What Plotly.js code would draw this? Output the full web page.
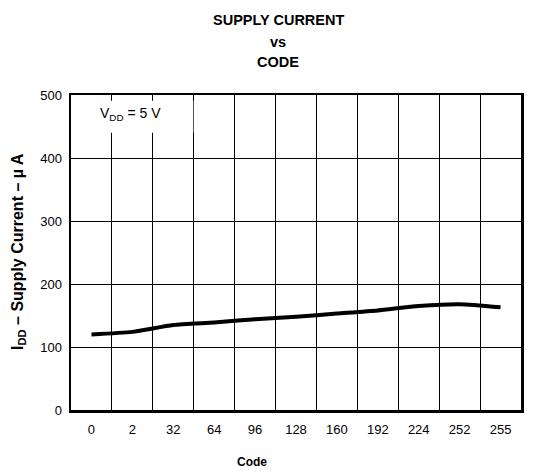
<!DOCTYPE html>
<html>
<head>
<meta charset="utf-8">
<script src="https://cdn.plot.ly/plotly-3.0.1.min.js"></script>
<style>html,body{margin:0;padding:0;background:#fff;}#chart{width:549px;height:473px;}</style>
</head>
<body>
<div id="chart"></div>
<script>
// Data
const codes = ["0", "2", "32", "64", "96", "128", "160", "192", "224", "252", "255"];
const supplyCurrent = [120, 124, 135, 139, 144, 148, 153, 158, 165, 168, 163];
const yTicks = [0, 100, 200, 300, 400, 500];
const titleLines = ["SUPPLY CURRENT", "vs", "CODE"];

const FONT = "Arial, 'Liberation Sans', Helvetica, sans-serif";

const W = 549, H = 473;
const M = {l: 71, r: 28, t: 95, b: 63};
const plotW = W - M.l - M.r, plotH = H - M.t - M.b;
const px = x => (x - M.l) / plotW;
const py = y => (H - M.b - y) / plotH;

const trace = {
  x: codes,
  y: supplyCurrent,
  type: "scatter",
  mode: "lines",
  line: {color: "#000", width: 4, shape: "spline", smoothing: 0.6},
  hoverinfo: "skip"
};

const titleY = [20, 42, 62];
const annotations = titleLines.map((t, i) => ({
  text: "<b>" + t + "</b>",
  xref: "paper", yref: "paper", x: px(278), y: py(titleY[i]),
  showarrow: false, xanchor: "center", yanchor: "middle",
  font: {family: FONT, size: 14.5, color: "#000"}
}));
annotations.push({
  text: "<b>Code</b>",
  xref: "paper", yref: "paper", x: px(252), y: py(462),
  showarrow: false, xanchor: "center", yanchor: "middle",
  font: {family: FONT, size: 12, color: "#000"}
});
annotations.push({
  text: "<b>I<sub>DD</sub> – Supply Current – µ A</b>",
  xref: "paper", yref: "paper", x: px(18), y: py(252),
  textangle: -90,
  showarrow: false, xanchor: "center", yanchor: "middle",
  font: {family: FONT, size: 16, color: "#000"}
});
annotations.push({
  text: "V<sub>DD</sub> = 5 V",
  xref: "x", yref: "y", x: 0.95, y: 470,
  showarrow: false, xanchor: "center", yanchor: "middle",
  font: {family: FONT, size: 14, color: "#000"}
});

const layout = {
  width: W,
  height: H,
  margin: M,
  paper_bgcolor: "#fff",
  plot_bgcolor: "#fff",
  showlegend: false,
  font: {family: FONT, color: "#000", size: 13},
  xaxis: {
    type: "category",
    tickson: "boundaries",
    range: [-0.5, codes.length - 0.5],
    showgrid: true, gridcolor: "#000", gridwidth: 1,
    showline: true, linecolor: "#000", linewidth: 2.5, mirror: true,
    ticks: "", ticklabelstandoff: 6,
    tickfont: {family: FONT, size: 13, color: "#000"},
    zeroline: false, fixedrange: true
  },
  yaxis: {
    range: [0, 500],
    tickvals: yTicks,
    showgrid: true, gridcolor: "#000", gridwidth: 1,
    showline: true, linecolor: "#000", linewidth: 2.5, mirror: true,
    ticks: "", ticklabelstandoff: 4,
    tickfont: {family: FONT, size: 13, color: "#000"},
    zeroline: false, fixedrange: true
  },
  shapes: [{
    type: "rect", xref: "x", yref: "y", layer: "above",
    x0: -0.47, x1: 2.49, y0: 440, y1: 491,
    fillcolor: "#fff", line: {width: 0}
  }],
  annotations: annotations
};

Plotly.newPlot("chart", [trace], layout, {displayModeBar: false, staticPlot: true});
</script>
</body>
</html>
